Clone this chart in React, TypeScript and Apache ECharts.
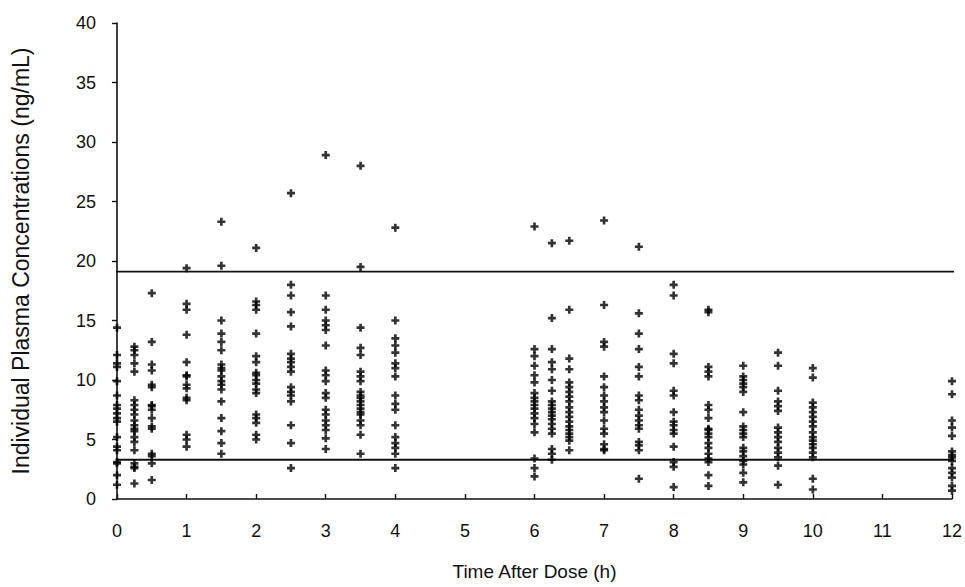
import React, { useEffect, useRef } from "react";
import * as echarts from "echarts";

// Sampling times (h)
const times = [0, 0.25, 0.5, 1, 1.5, 2, 2.5, 3, 3.5, 4, 6, 6.25, 6.5, 7, 7.5, 8, 8.5, 9, 9.5, 10, 12];

// Individual plasma concentrations (ng/mL) per sampling time
const c0 = [14.4, 12.1, 11.4, 11.1, 9.9, 8.7, 7.9, 7.6, 7.2, 6.8, 6.5, 5.2, 4.4, 4.1, 3.1, 3.0, 2.0, 1.2];
const c025 = [12.8, 12.5, 12.1, 11.4, 10.7, 8.3, 7.9, 7.5, 7.1, 6.6, 6.2, 5.9, 5.7, 5.2, 4.8, 4.1, 3.0, 2.7, 2.6, 1.3];
const c05 = [17.3, 13.2, 11.3, 10.8, 9.6, 9.4, 7.9, 7.8, 7.5, 6.8, 6.1, 5.9, 3.8, 3.6, 3.0, 1.6];
const c1 = [19.4, 16.4, 15.9, 13.8, 11.5, 10.4, 10.3, 9.6, 9.3, 8.5, 8.3, 5.4, 5.0, 4.4];
const c15 = [23.3, 19.6, 15.0, 13.9, 13.2, 12.5, 11.3, 11.0, 10.8, 10.3, 9.9, 9.6, 9.2, 8.2, 6.8, 5.7, 4.7, 3.8];
const c2 = [21.1, 16.6, 16.3, 15.9, 13.9, 12.0, 11.5, 10.6, 10.4, 10.0, 9.7, 9.2, 8.9, 7.1, 6.8, 6.4, 5.4, 5.0];
const c25 = [25.7, 18.0, 17.1, 15.7, 14.5, 12.2, 11.8, 11.5, 11.1, 10.7, 9.4, 9.0, 8.7, 8.2, 6.2, 4.7, 2.6];
const c3 = [28.9, 17.1, 15.9, 15.0, 14.6, 14.2, 12.9, 10.8, 10.4, 9.9, 8.9, 8.5, 7.5, 7.1, 6.6, 6.2, 5.8, 5.1, 4.2];
const c35 = [28.0, 19.5, 14.4, 12.7, 12.1, 10.7, 10.3, 9.9, 9.0, 8.7, 8.5, 8.2, 7.9, 7.6, 7.3, 7.1, 6.6, 6.2, 5.4, 3.8];
const c4 = [22.8, 15.0, 13.5, 12.9, 12.3, 11.4, 11.0, 10.3, 8.7, 8.0, 7.5, 6.2, 5.2, 4.7, 4.3, 3.8, 2.6];
const c6 = [22.9, 12.6, 12.0, 11.2, 10.4, 9.8, 8.9, 8.5, 8.2, 7.9, 7.6, 7.2, 6.8, 6.3, 5.6, 3.4, 2.6, 1.9];
const c625 = [21.5, 15.2, 12.6, 11.5, 10.9, 10.0, 9.1, 8.2, 7.9, 7.6, 7.3, 7.0, 6.7, 6.3, 5.9, 5.5, 4.2, 3.8, 3.3];
const c65 = [21.7, 15.9, 11.8, 10.9, 9.8, 9.4, 9.0, 8.6, 8.2, 7.7, 7.3, 6.9, 6.5, 6.1, 5.8, 5.5, 5.2, 4.9, 4.1];
const c7 = [23.4, 16.3, 13.2, 12.8, 10.3, 9.4, 8.7, 8.2, 7.7, 7.3, 6.6, 5.9, 5.5, 4.6, 4.2, 4.1];
const c75 = [21.2, 15.6, 13.9, 12.6, 11.1, 10.3, 8.7, 8.3, 7.5, 7.0, 6.6, 6.2, 5.9, 4.8, 4.5, 4.1, 1.7];
const c8 = [18.0, 17.1, 12.2, 11.4, 9.1, 8.7, 7.3, 6.5, 6.2, 5.8, 5.5, 4.4, 3.1, 2.7, 1.0];
const c85 = [15.9, 15.7, 11.1, 10.7, 10.3, 7.9, 7.5, 6.8, 5.9, 5.8, 5.5, 5.2, 4.7, 4.3, 3.8, 3.4, 3.1, 2.0, 1.1];
const c9 = [11.2, 10.3, 10.0, 9.7, 9.4, 9.0, 7.3, 6.1, 5.8, 5.5, 5.2, 4.3, 4.0, 3.6, 3.2, 2.9, 2.2, 1.4];
const c95 = [12.3, 11.2, 9.1, 8.2, 7.8, 7.4, 6.0, 5.6, 5.2, 4.8, 4.3, 3.9, 3.5, 2.8, 1.2];
const c10 = [11.0, 10.2, 8.1, 7.7, 7.3, 6.9, 6.5, 6.1, 5.6, 5.2, 4.9, 4.6, 4.3, 3.9, 3.5, 1.7, 0.8];
const c12 = [9.9, 8.8, 6.6, 6.0, 5.3, 4.0, 3.7, 3.5, 3.2, 2.6, 2.2, 1.8, 1.1, 0.7];

const concentrationsByTime = [c0, c025, c05, c1, c15, c2, c25, c3, c35, c4, c6, c625, c65, c7, c75, c8, c85, c9, c95, c10, c12];

// Horizontal reference levels (ng/mL)
const upperLevel = 19.1;
const lowerLevel = 3.3;
const refLineStart = -0.13;
const refLineEnd = 12.12;

const yTicks = [0, 5, 10, 15, 20, 25, 30, 35, 40];

const FONT = "'Liberation Sans', Arial, Helvetica, sans-serif";
const PLUS = "path://M2,0 L4,0 L4,2 L6,2 L6,4 L4,4 L4,6 L2,6 L2,4 L0,4 L0,2 L2,2 Z";

export default function App() {
  const ref = useRef<HTMLDivElement>(null);

  useEffect(() => {
    if (!ref.current) return;
    const chart = echarts.init(ref.current, null, { renderer: "svg" });

    const points: number[][] = [];
    times.forEach((t, i) => {
      concentrationsByTime[i].forEach((v) => points.push([t, v]));
    });

    chart.setOption({
      animation: false,
      backgroundColor: "#ffffff",
      grid: { left: 117, right: 13, top: 23, bottom: 88, containLabel: false },
      xAxis: {
        type: "value",
        min: 0,
        max: 12,
        interval: 1,
        offset: 13,
        name: "Time After Dose (h)",
        nameLocation: "middle",
        nameGap: 50,
        nameTextStyle: { fontFamily: FONT, fontSize: 19, color: "#111" },
        axisLine: { show: true, lineStyle: { color: "#111", width: 1.6 } },
        axisTick: { show: true, inside: true, length: 5, lineStyle: { color: "#111", width: 1.4 } },
        axisLabel: { margin: 10, fontFamily: FONT, fontSize: 18, color: "#111" },
        splitLine: { show: false },
      },
      yAxis: {
        type: "value",
        min: yTicks[0],
        max: yTicks[yTicks.length - 1],
        interval: 5,
        offset: 9,
        name: "Individual Plasma Concentrations (ng/mL)",
        nameLocation: "middle",
        nameRotate: 90,
        nameGap: 76,
        nameTextStyle: { fontFamily: FONT, fontSize: 23, color: "#111" },
        axisLine: { show: true, lineStyle: { color: "#111", width: 1.6 } },
        axisTick: { show: true, inside: false, length: 5, lineStyle: { color: "#111", width: 1.4 } },
        axisLabel: { margin: 12, fontFamily: FONT, fontSize: 18, color: "#111" },
        splitLine: { show: false },
      },
      series: [
        {
          type: "line",
          data: [[refLineStart, upperLevel], [refLineEnd, upperLevel]],
          symbol: "none",
          clip: false,
          lineStyle: { color: "#111", width: 1.8 },
          silent: true,
          z: 1,
        },
        {
          type: "line",
          data: [[refLineStart, lowerLevel], [refLineEnd, lowerLevel]],
          symbol: "none",
          clip: false,
          lineStyle: { color: "#111", width: 1.8 },
          silent: true,
          z: 1,
        },
        {
          type: "scatter",
          data: points,
          symbol: PLUS,
          symbolSize: 8,
          itemStyle: { color: "#000" },
          z: 3,
        },
      ],
    });

    return () => chart.dispose();
  }, []);

  return <div ref={ref} style={{ width: 965, height: 587, position: "absolute", left: 0, top: 0 }} />;
}
